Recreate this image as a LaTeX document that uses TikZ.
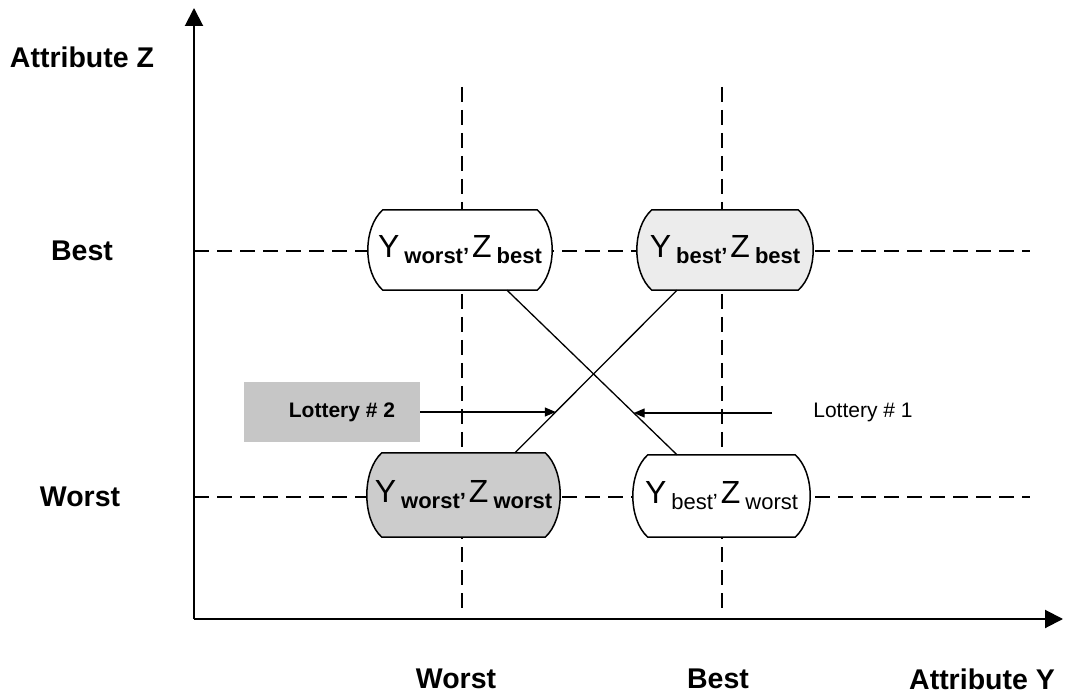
\documentclass[tikz,border=0pt]{standalone}
\usepackage{fontspec}
\setmainfont{Liberation Sans}
\usetikzlibrary{arrows.meta,backgrounds}
\tikzset{
  lbl/.style={font=\fontsize{28.5}{30}\selectfont\bfseries, inner sep=0pt},
  gridline/.style={line width=2.2pt, dash pattern=on 15pt off 8pt},
  cell/.style={inner sep=0pt, draw=none},
  axisline/.style={line width=2pt, -{Triangle[width=18pt,length=18pt]}},
  link/.style={line width=1.3pt},
  arr/.style={line width=1.3pt, -{Triangle[width=9pt,length=11pt]}},
}
\newcommand{\pairtext}[3]{{\fontsize{32}{32}\selectfont Y}\hspace{5pt}\raisebox{-6pt}{\fontsize{22}{22}\selectfont #3#1’}\hspace{3pt}{\fontsize{32}{32}\selectfont Z}\hspace{5pt}\raisebox{-6pt}{\fontsize{22}{22}\selectfont #3#2}}
\newcommand{\drawbarrel}[2]{%
  \draw[line width=1.5pt, fill=#2] ([xshift=15pt]#1.north west) -- ([xshift=-15pt]#1.north east)
    .. controls +(20pt,-18pt) and +(20pt,18pt) .. ([xshift=-15pt]#1.south east)
    -- ([xshift=15pt]#1.south west)
    .. controls +(-20pt,18pt) and +(-20pt,-18pt) .. ([xshift=15pt]#1.north west) -- cycle;}
\begin{document}
\begin{tikzpicture}[x=1pt,y=1pt]
\useasboundingbox (0,0) rectangle (1065,694);
% axes coordinates
\coordinate (O) at (194,75);
\coordinate (ytop) at (194,686);
\coordinate (xend) at (1063,75);
% grid coordinates
\coordinate (hb1) at (194,443);
\coordinate (hb2) at (1030,443);
\coordinate (hw1) at (194,197);
\coordinate (hw2) at (1030,197);
\coordinate (vw1) at (462,607);
\coordinate (vw2) at (462,82);
\coordinate (vb1) at (722,607);
\coordinate (vb2) at (722,82);
% outcome nodes
\node[cell, minimum width=184pt, minimum height=80pt] (tl) at (460,444) {\pairtext{worst}{best}{\bfseries}};
\node[cell, minimum width=176pt, minimum height=80pt] (tr) at (725,444) {\pairtext{best}{best}{\bfseries}};
\node[cell, minimum width=193pt, minimum height=84pt] (bl) at (463.5,199) {\pairtext{worst}{worst}{\bfseries}};
\node[cell, minimum width=177pt, minimum height=82pt] (br) at (721.5,198) {\pairtext{best}{worst}{\mdseries}};
% labels
\node[lbl] (az) at (82,637) {Attribute Z};
\node[lbl] (zb) at (82,443) {Best};
\node[lbl] (zw) at (80,197) {Worst};
\node[lbl] (yw) at (456,15) {Worst};
\node[lbl] (yb) at (718,15) {Best};
\node[lbl] (ay) at (982,15) {Attribute Y};
% lotteries
\node[fill=gray!45, minimum width=176pt, minimum height=60pt, inner sep=0pt,
      font=\fontsize{21}{21}\selectfont\bfseries] (l2) at (332,282) {\hspace{20pt}Lottery \# 2};
\node[inner sep=0pt, font=\fontsize{21}{21}\selectfont] (l1) at (863,282) {Lottery \# 1};
\coordinate (l1s) at (772,281);
\coordinate (tip2) at (555.8,282);
\coordinate (tip1) at (633.7,281);
\begin{pgfonlayer}{background}
  \draw[gridline] (hb1) -- (hb2);
  \draw[gridline] (hw1) -- (hw2);
  \draw[gridline] (vw1) -- (vw2);
  \draw[gridline] (vb1) -- (vb2);
  \drawbarrel{tl}{white}
  \drawbarrel{tr}{gray!15}
  \drawbarrel{bl}{gray!40}
  \drawbarrel{br}{white}
\end{pgfonlayer}
% axes
\draw[axisline] (O) -- (ytop);
\draw[axisline] (O) -- (xend);
% connectors
\draw[link] ([xshift=47pt]tl.south) -- ([xshift=-44.5pt]br.north);
\draw[link] ([xshift=51.5pt]bl.north) -- ([xshift=-48pt]tr.south);
\draw[arr] (l2.east) -- (tip2);
\draw[arr] (l1s) -- (tip1);
\end{tikzpicture}
\end{document}
